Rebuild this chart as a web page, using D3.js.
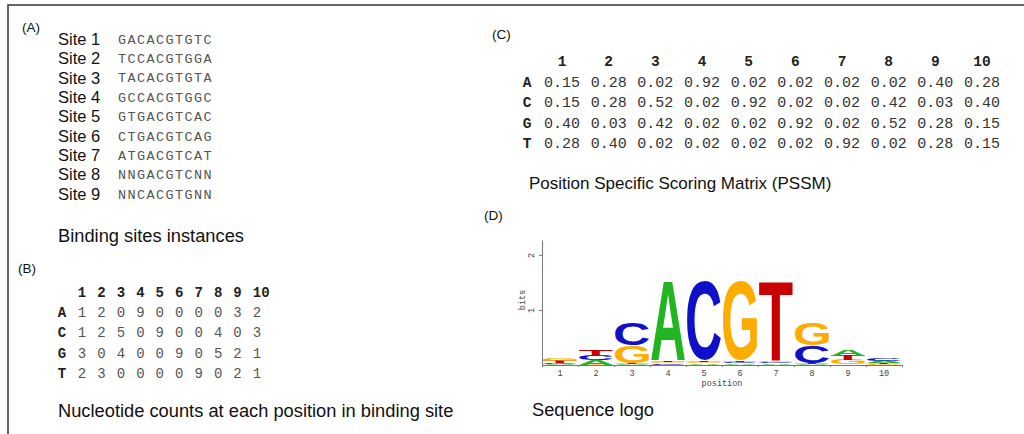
<!DOCTYPE html>
<html>
<head>
<meta charset="utf-8">
<script src="https://cdn.jsdelivr.net/npm/d3@7"></script>
<style>
  body { margin: 0; background: #fff; }
  text { font-family: "Liberation Sans", Arial, sans-serif; }
  .mono { font-family: "Liberation Mono", "DejaVu Sans Mono", monospace; }
</style>
</head>
<body>
<svg id="fig" width="1024" height="434"></svg>
<script>
// Binding site instances
const siteNames = ["Site 1", "Site 2", "Site 3", "Site 4", "Site 5", "Site 6", "Site 7", "Site 8", "Site 9"];
const siteSeqs = ["GACACGTGTC", "TCCACGTGGA", "TACACGTGTA", "GCCACGTGGC", "GTGACGTCAC",
                  "CTGACGTCAG", "ATGACGTCAT", "NNGACGTCNN", "NNCACGTGNN"];

// Columns / rows of the matrices
const positions = [1, 2, 3, 4, 5, 6, 7, 8, 9, 10];
const bases = ["A", "C", "G", "T"];

// Nucleotide counts (B)
const countsA = [1, 2, 0, 9, 0, 0, 0, 0, 3, 2];
const countsC = [1, 2, 5, 0, 9, 0, 0, 4, 0, 3];
const countsG = [3, 0, 4, 0, 0, 9, 0, 5, 2, 1];
const countsT = [2, 3, 0, 0, 0, 0, 9, 0, 2, 1];

// PSSM (C)
const pssmA = [0.15, 0.28, 0.02, 0.92, 0.02, 0.02, 0.02, 0.02, 0.40, 0.28];
const pssmC = [0.15, 0.28, 0.52, 0.02, 0.92, 0.02, 0.02, 0.42, 0.03, 0.40];
const pssmG = [0.40, 0.03, 0.42, 0.02, 0.02, 0.92, 0.02, 0.52, 0.28, 0.15];
const pssmT = [0.28, 0.40, 0.02, 0.02, 0.02, 0.02, 0.92, 0.02, 0.28, 0.15];

// Logo y axis ticks
const bitTicks = [1, 2];

const baseColor = { A: "#21b521", C: "#1010c8", G: "#ffac00", T: "#c80000" };

const svg = d3.select("#fig");

// frame
svg.append("path")
    .attr("d", "M8,434V5H1024")
    .attr("fill", "none")
    .attr("stroke", "#333")
    .attr("stroke-width", 1.5);

function label(x, y, txt, size) {
    svg.append("text")
        .attr("x", x).attr("y", y).attr("dy", "0.35em")
        .attr("font-size", size)
        .attr("fill", "#111")
        .text(txt);
}

// ---------- (A) ----------
label(22, 27, "(A)", 13.5);
const ySite = d3.scalePoint().domain(siteNames).range([39, 194]);
const gA = svg.append("g");
gA.selectAll(".site").data(siteNames).enter().append("text")
    .attr("x", 58).attr("y", d => ySite(d)).attr("dy", "0.35em")
    .attr("font-size", 16.5).attr("fill", "#111")
    .text(d => d);
gA.selectAll(".seq").data(siteSeqs).enter().append("text")
    .attr("class", "mono")
    .attr("x", 118).attr("y", (d, i) => ySite(siteNames[i])).attr("dy", "0.35em")
    .attr("font-size", 13.5).attr("letter-spacing", 1.4).attr("fill", "#555")
    .text(d => d);
label(58, 236, "Binding sites instances", 18.3);

// ---------- (B) ----------
label(18, 268, "(B)", 13.5);
const countRows = { A: countsA, C: countsC, G: countsG, T: countsT };
const xB = d3.scalePoint().domain(positions).range([82, 257]);
const yB = d3.scalePoint().domain(["hdr"].concat(bases)).range([292, 373]);
const gB = svg.append("g").attr("class", "mono");
gB.selectAll(".hdr").data(positions).enter().append("text")
    .attr("class", "mono")
    .attr("x", d => xB(d) - 4.2).attr("y", yB("hdr")).attr("dy", "0.35em")
    .attr("font-size", 14).attr("font-weight", "bold").attr("fill", "#222")
    .text(d => d);
bases.forEach(b => {
    gB.append("text").attr("class", "mono")
        .attr("x", 62).attr("y", yB(b)).attr("dy", "0.35em")
        .attr("text-anchor", "middle")
        .attr("font-size", 14).attr("font-weight", "bold").attr("fill", "#222")
        .text(b);
    gB.selectAll(".c" + b).data(countRows[b]).enter().append("text")
        .attr("class", "mono")
        .attr("x", (d, i) => xB(positions[i])).attr("y", yB(b)).attr("dy", "0.35em")
        .attr("text-anchor", "middle")
        .attr("font-size", 14).attr("fill", "#555")
        .text(d => d);
});
label(58, 411, "Nucleotide counts at each position in binding site", 18.3);

// ---------- (C) ----------
label(492, 34, "(C)", 13.5);
const pssmRows = { A: pssmA, C: pssmC, G: pssmG, T: pssmT };
const xC = d3.scalePoint().domain(positions).range([562, 982]);
const yC = d3.scalePoint().domain(["hdr"].concat(bases)).range([61, 143]);
const gC = svg.append("g");
gC.selectAll(".hdr").data(positions).enter().append("text")
    .attr("class", "mono")
    .attr("x", d => xC(d)).attr("y", yC("hdr")).attr("dy", "0.35em")
    .attr("text-anchor", "middle")
    .attr("font-size", 14.5).attr("font-weight", "bold").attr("fill", "#222")
    .text(d => d);
bases.forEach(b => {
    gC.append("text").attr("class", "mono")
        .attr("x", 527).attr("y", yC(b)).attr("dy", "0.35em")
        .attr("text-anchor", "middle")
        .attr("font-size", 14.5).attr("font-weight", "bold").attr("fill", "#222")
        .text(b);
    gC.selectAll(".p" + b).data(pssmRows[b]).enter().append("text")
        .attr("class", "mono")
        .attr("x", (d, i) => xC(positions[i])).attr("y", yC(b)).attr("dy", "0.35em")
        .attr("text-anchor", "middle")
        .attr("font-size", 15).attr("fill", "#333")
        .text(d => d3.format(".2f")(d));
});
label(529, 183, "Position Specific Scoring Matrix (PSSM)", 17);

// ---------- (D) sequence logo ----------
label(484, 215, "(D)", 13.5);
const xL = d3.scaleBand().domain(positions).range([542, 902]).padding(0);
const yL = d3.scaleLinear().domain([0, 2.27]).range([365, 240]);

// glyph ink metrics so a letter can be stretched into its box
const ctx = document.createElement("canvas").getContext("2d");
ctx.font = "bold 100px 'Liberation Sans', Arial, sans-serif";
const glyph = {};
bases.forEach(b => {
    const m = ctx.measureText(b);
    glyph[b] = { l: m.actualBoundingBoxLeft, r: m.actualBoundingBoxRight,
                 a: m.actualBoundingBoxAscent, d: m.actualBoundingBoxDescent };
});

// stack heights: information content * frequency
const stacks = positions.map((p, i) => {
    const probs = bases.map(b => ({ base: b, p: pssmRows[b][i] }));
    const ic = 2 + d3.sum(probs, d => d.p > 0 ? d.p * Math.log2(d.p) : 0);
    probs.sort((a, b) => a.p - b.p);
    let acc = 0;
    return probs.map(d => {
        const h = d.p * ic;
        const item = { pos: p, base: d.base, y0: acc, y1: acc + h };
        acc += h;
        return item;
    });
}).flat();

const gL = svg.append("g");
gL.selectAll(".letter").data(stacks.filter(d => yL(d.y0) - yL(d.y1) > 0.3)).enter().append("text")
    .attr("font-family", "'Liberation Sans', Arial, sans-serif")
    .attr("font-weight", "bold")
    .attr("font-size", 100)
    .attr("fill", d => baseColor[d.base])
    .attr("transform", d => {
        const g = glyph[d.base];
        const w = xL.bandwidth() - 2;
        const h = yL(d.y0) - yL(d.y1);
        const sx = w / (g.l + g.r), sy = h / (g.a + g.d);
        const x0 = xL(d.pos) + 1, top = yL(d.y1);
        return `translate(${x0 + g.l * sx},${top + g.a * sy}) scale(${sx},${sy})`;
    })
    .text(d => d.base);

// axes
const yAxis = gL.append("g")
    .attr("transform", `translate(542,0)`)
    .call(d3.axisLeft(yL).tickValues(bitTicks).tickSize(3).tickSizeOuter(0).tickFormat(d3.format("d")));
yAxis.selectAll("text")
    .attr("class", "mono")
    .attr("transform", "rotate(-90)")
    .attr("x", 0).attr("y", -8).attr("dy", 0)
    .attr("text-anchor", "middle")
    .attr("font-size", 8.5).attr("fill", "#444");

const xAxis = gL.append("g")
    .attr("transform", `translate(0,365)`)
    .call(d3.axisBottom(xL).tickSize(0).tickPadding(5));
xAxis.selectAll("text").attr("class", "mono").attr("font-size", 8.5).attr("fill", "#444");

const xEdges = d3.scaleLinear().domain([0, 10]).range([542, 902]);
gL.append("g")
    .attr("transform", `translate(0,365)`)
    .call(d3.axisBottom(xEdges).ticks(10).tickSize(2).tickFormat(""))
    .select(".domain").remove();

gL.selectAll(".domain, .tick line").attr("stroke", "#777");

gL.append("text").attr("class", "mono")
    .attr("x", 722).attr("y", 383).attr("dy", "0.35em")
    .attr("text-anchor", "middle").attr("font-size", 8.5).attr("fill", "#444")
    .text("position");
gL.append("text").attr("class", "mono")
    .attr("transform", "translate(522,300) rotate(-90)")
    .attr("dy", "0.35em")
    .attr("text-anchor", "middle").attr("font-size", 8.5).attr("fill", "#444")
    .text("bits");

label(532, 410, "Sequence logo", 18.3);
</script>
</body>
</html>
